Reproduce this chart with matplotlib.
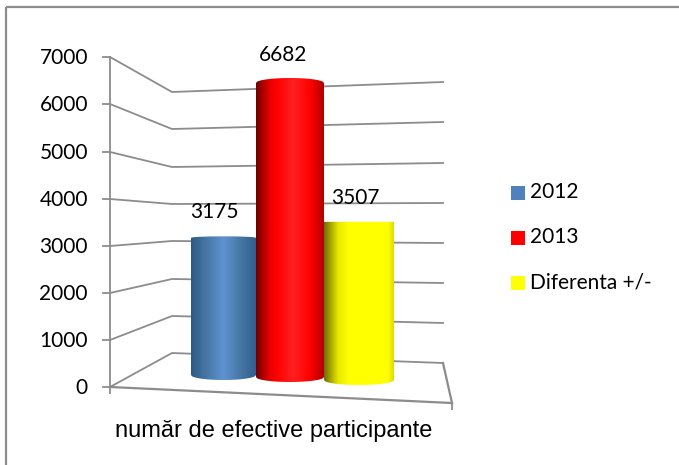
#
#  plot.py
#  3D looking cylinder chart, drawn on a pixel sized axes
#
import numpy as np
import matplotlib
matplotlib.use("Agg")
import matplotlib.pyplot as plt
from matplotlib.colors import LinearSegmentedColormap
from matplotlib.patches import Polygon, Rectangle

W, H = 679, 465

# data
series = ["2012", "2013", "Diferenta +/-"]
values = [3175, 6682, 3507]
ticks = [0, 1000, 2000, 3000, 4000, 5000, 6000, 7000]
xlabel = "număr de efective participante"

# y position of the grid lines at the three wall corners
yfront = [387, 340, 293, 246, 199, 152, 104, 57]
yback = [353, 316, 279, 241, 204, 167, 129, 92]
yright = [363, 323, 283, 243, 203, 163, 122, 82]
xfront, xback, xright = 110, 172, 443

# bar geometry, x0, x1, y of base edge, px per unit
barx = [(191, 256), (256, 324), (324, 394)]
bary = [375, 377, 380]
barscale = [0.0432, 0.0440, 0.0451]

legcolors = ["#4f81bd", "#ff0000", "#ffff00"]
grads = [
    [(0, "#2c5a88"), (0.2, "#44739f"), (0.5, "#5f92d2"), (0.8, "#44739f"), (1, "#325f8e")],
    [(0, "#700000"), (0.2, "#e80000"), (0.3, "#ff0000"), (0.55, "#ff2020"), (0.8, "#ff0000"), (1, "#b00000")],
    [(0, "#6e6e00"), (0.2, "#e8e800"), (0.35, "#ffff00"), (0.92, "#ffff00"), (1, "#dcdc00")],
]
GRAY = "#8c8c8c"
plt.rcParams["font.family"] = ["Lato", "DejaVu Sans"]

fig = plt.figure(figsize=(W / 100, H / 100), dpi=100)
ax = fig.add_axes([0, 0, 1, 1])
ax.set_xlim(0, W)
ax.set_ylim(H, 0)
ax.axis("off")

# outer frame, only top and left are inside the crop
ax.plot([6, W], [7.5, 7.5], color="#8c8c8c", lw=1.6, zorder=1, solid_capstyle="butt")
ax.plot([6, 6], [7, H], color="#8c8c8c", lw=1.6, zorder=1, solid_capstyle="butt")

# grid lines on the walls
for i in range(len(ticks)):
    ax.plot([xfront, xback, xright], [yfront[i], yback[i], yright[i]],
            color=GRAY, lw=1.3, zorder=2, solid_joinstyle="miter")
    ax.plot([103, xfront], [yfront[i], yfront[i]], color=GRAY, lw=1.3, zorder=2)
    ax.text(88, yfront[i] + 1, str(ticks[i]), ha="right", va="center", fontsize=15, color="black")

# axis, floor
ax.plot([xfront, xfront], [yfront[-1], 393], color=GRAY, lw=1.3, zorder=2)
ax.plot([xfront, 452], [yfront[0], 403], color=GRAY, lw=1.6, zorder=2)
ax.plot([xright, 452], [yright[0], 403], color=GRAY, lw=1.6, zorder=2)
ax.plot([452, 452], [403, 409], color=GRAY, lw=1.3, zorder=2)

# cylinders
for i in range(len(values)):
    x0, x1 = barx[i]
    ybase = bary[i]
    ytop = ybase - values[i] * barscale[i]
    cm = LinearSegmentedColormap.from_list("g%d" % i, grads[i])
    grad = np.linspace(0, 1, 128).reshape(1, -1)
    xs = np.linspace(x0, x1, 60)
    t = (xs - x0) / (x1 - x0)
    arc = np.sqrt(np.maximum(0, 1 - (2 * t - 1) ** 2))
    rb = 5.0
    rt = 5.0 if i == 1 else (1.5 if i == 0 else 0.0)
    top = ytop - rt * arc
    bot = ybase + rb * arc
    pts = np.column_stack([np.r_[xs, xs[::-1]], np.r_[top, bot[::-1]]])
    poly = Polygon(pts, closed=True, fc="none", ec="none", zorder=3 + i * 0.1)
    ax.add_patch(poly)
    im = ax.imshow(grad, cmap=cm, extent=(x0, x1, ybase + rb, ytop - rt), aspect="auto",
                   zorder=3 + i * 0.1, interpolation="bilinear")
    im.set_clip_path(poly)

ax.set_xlim(0, W)
ax.set_ylim(H, 0)

# value labels
labx = [214, 283, 355]
laby = [212, 55, 198]
for i in range(len(values)):
    ax.text(labx[i], laby[i], str(values[i]), ha="center", va="center", fontsize=15,
            color="black", zorder=6)

ax.text(274, 431, xlabel, ha="center", va="center", fontsize=17, color="black",
        family="Liberation Sans")

# legend
legy = [192, 237, 282]
for i in range(len(series)):
    ax.add_patch(Rectangle((511, legy[i] - 6), 14, 14, fc=legcolors[i], ec="none"))
    ax.text(530, legy[i], series[i], ha="left", va="center", fontsize=15, color="black")

fig.savefig("out.png", dpi=100)
